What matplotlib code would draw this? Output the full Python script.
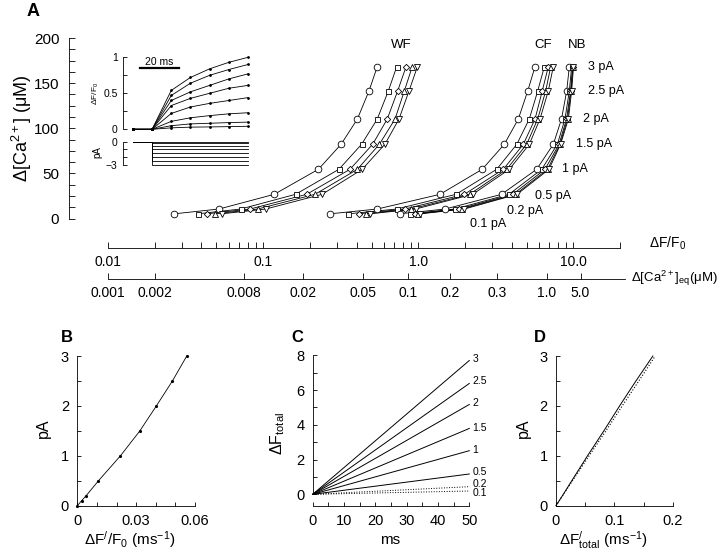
import matplotlib
matplotlib.use("Agg")
import matplotlib.pyplot as plt
from matplotlib.ticker import MultipleLocator, AutoMinorLocator, FixedLocator, NullFormatter

plt.rcParams['font.family'] = ['Liberation Sans', 'DejaVu Sans']
plt.rcParams['mathtext.fontset'] = 'custom'
plt.rcParams['mathtext.rm'] = 'Liberation Sans'
plt.rcParams['mathtext.it'] = 'Liberation Sans:italic'
plt.rcParams['mathtext.default'] = 'regular'
plt.rcParams['axes.linewidth'] = 0.6
plt.rcParams['xtick.major.width'] = 0.6
plt.rcParams['ytick.major.width'] = 0.6
plt.rcParams['xtick.minor.width'] = 0.6
plt.rcParams['ytick.minor.width'] = 0.6

# ---- panel A: dF/F0 vs d[Ca2+] for 8 current steps
pa_levels = [0.1, 0.2, 0.5, 1, 1.5, 2, 2.5, 3]
ca_um = [5.2, 10.5, 26.8, 54.5, 82.2, 110.2, 141.3, 168.2]
pa_text = ['0.1 pA', '0.2 pA', '0.5 pA', '1 pA', '1.5 pA', '2 pA', '2.5 pA', '3 pA']

wf_circle = [0.0268, 0.052, 0.118, 0.227, 0.318, 0.405, 0.481, 0.544]
wf_square = [0.0379, 0.0717, 0.162, 0.308, 0.431, 0.544, 0.641, 0.726]
wf_diamond = [0.0433, 0.0824, 0.191, 0.363, 0.508, 0.631, 0.736, 0.834]
wf_up = [0.049, 0.0922, 0.216, 0.405, 0.561, 0.708, 0.813, 0.914]
wf_down = [0.0541, 0.104, 0.240, 0.435, 0.609, 0.751, 0.871, 0.987]

cf_circle = [0.270, 0.544, 1.38, 2.58, 3.58, 4.41, 5.07, 5.65]
cf_square = [0.354, 0.726, 1.75, 3.20, 4.31, 5.19, 5.88, 6.49]
cf_diamond = [0.412, 0.820, 1.98, 3.53, 4.75, 5.65, 6.29, 6.88]
cf_up = [0.457, 0.898, 2.14, 3.71, 4.99, 5.88, 6.62, 7.13]
cf_down = [0.486, 0.960, 2.24, 3.86, 5.19, 6.08, 6.88, 7.41]

nb_circle = [0.759, 1.49, 3.44, 5.79, 7.41, 8.37, 9.04, 9.40]
nb_square = [0.885, 1.72, 3.84, 6.24, 7.87, 8.81, 9.40, 9.73]
nb_diamond = [0.953, 1.83, 4.06, 6.55, 8.07, 9.02, 9.57, 9.86]
nb_up = [0.991, 1.91, 4.23, 6.80, 8.18, 9.15, 9.64, 9.93]
nb_down = [1.03, 1.98, 4.33, 6.95, 8.25, 9.27, 9.73, 10.0]

group_names = ['WF', 'CF', 'NB']
groups = [[wf_circle, wf_square, wf_diamond, wf_up, wf_down],
          [cf_circle, cf_square, cf_diamond, cf_up, cf_down],
          [nb_circle, nb_square, nb_diamond, nb_up, nb_down]]
markers = ['o', 's', 'D', '^', 'v']
msizes = [4.8, 3.6, 3.2, 4.4, 4.4]

# lower scale: d[Ca2+]eq ticks and where they sit on the dF/F0 scale
ca_eq_ticks = ['0.001', '0.002', '0.008', '0.02', '0.05', '0.1', '0.2', '0.3', '1.0', '5.0']
ca_eq_at_dff = [0.01, 0.02, 0.0749, 0.180, 0.443, 0.855, 1.60, 3.20, 6.71, 11.1]

# inset traces (dF/F0 and current)
t_ms = [0, 10, 20, 30, 40, 50, 60]
dff_traces = [
    [0, 0, 0.54, 0.72, 0.84, 0.93, 1.00],
    [0, 0, 0.47, 0.64, 0.75, 0.83, 0.90],
    [0, 0, 0.40, 0.52, 0.61, 0.70, 0.77],
    [0, 0, 0.33, 0.43, 0.50, 0.57, 0.61],
    [0, 0, 0.22, 0.31, 0.36, 0.40, 0.44],
    [0, 0, 0.11, 0.16, 0.19, 0.215, 0.23],
    [0, 0, 0.05, 0.075, 0.084, 0.093, 0.10],
    [0, 0, 0.02, 0.03, 0.033, 0.037, 0.042],
]
step_t = [0, 10, 10, 60]

# ---- panel B
b_pa = [0, 0.1, 0.2, 0.5, 1, 1.5, 2, 2.5, 3]
b_rate = [0, 0.0022, 0.0045, 0.0108, 0.022, 0.0319, 0.0403, 0.0485, 0.0558]

# ---- panel C
c_t = [0, 50]
c_names = ['3', '2.5', '2', '1.5', '1', '0.5', '0.2', '0.1']
c_end = [7.7, 6.38, 5.17, 3.79, 2.51, 1.17, 0.44, 0.19]

# ---- panel D
d_pa = [0, 0.1, 0.2, 0.5, 1, 1.5, 2, 2.5, 3]
d_solid = [0, 0.0055, 0.011, 0.027, 0.054, 0.082, 0.109, 0.137, 0.166]
d_dotted = [0, 0.0056, 0.0113, 0.0283, 0.0567, 0.0855, 0.1135, 0.142, 0.170]

W, H = 720.0, 553.0
fig = plt.figure(figsize=(W / 100, H / 100), dpi=100)


def box(l, t, r, b):
    return [l / W, 1 - b / H, (r - l) / W, (b - t) / H]


def txt(x, y, s, **kw):
    kw.setdefault('ha', 'center')
    kw.setdefault('va', 'center')
    fig.text(x / W, 1 - y / H, s, **kw)


def px2dff(p):
    return 10 ** ((p - 107.9) / 155.2 - 2)


xl = (px2dff(69), px2dff(640))

# main A axes
ax = fig.add_axes(box(69, 38, 640, 218.5))
ax.set_xscale('log')
ax.set_xlim(xl)
ax.set_ylim(0, 200)
for s in ['top', 'right', 'bottom']:
    ax.spines[s].set_visible(False)
ax.xaxis.set_visible(False)
ax.patch.set_alpha(0)
ax.yaxis.set_major_locator(MultipleLocator(50))
ax.yaxis.set_minor_locator(AutoMinorLocator(4))
ax.tick_params(axis='y', which='both', direction='in', length=4, labelsize=11, pad=7)

for grp in groups:
    for xs, m, ms in zip(grp, markers, msizes):
        ax.plot(xs, ca_um, '-', color='k', lw=0.6, zorder=2, clip_on=False)
    for xs, m, ms in zip(grp, markers, msizes):
        ax.plot(xs, ca_um, ls='none', marker=m, ms=ms, mfc='white', mec='k',
                mew=0.6, zorder=3, clip_on=False)

txt(401.7, 45, 'WF', fontsize=9.5)
txt(543, 45, 'CF', fontsize=9.5)
txt(577, 45, 'NB', fontsize=9.5)
pa_lab_x = [470, 507, 535, 562, 576, 583, 588, 588]
pa_lab_y = [223.5, 211, 196, 169, 144, 119, 91, 67]
for s, x, y in zip(pa_text, pa_lab_x, pa_lab_y):
    txt(x, y, s, fontsize=9, ha='left')

# dF/F0 log axis
ax1 = fig.add_axes(box(69, 247, 640, 248))
ax1.set_xscale('log')
ax1.set_xlim(xl)
ax1.patch.set_alpha(0)
for s in ['top', 'right', 'left']:
    ax1.spines[s].set_visible(False)
ax1.yaxis.set_visible(False)
ax1.spines['bottom'].set_bounds(0.01, 20)
ax1.set_xticks([0.01, 0.1, 1, 10], ['0.01', '0.1', '1.0', '10.0'])
ax1.xaxis.set_minor_locator(FixedLocator([k * 10.0 ** e for e in (-2, -1, 0) for k in range(2, 10)] + [20]))
ax1.xaxis.set_minor_formatter(NullFormatter())
ax1.tick_params(axis='x', which='both', direction='in', length=4, labelsize=10, pad=5)

# d[Ca2+]eq axis
ax2 = fig.add_axes(box(69, 278, 640, 279))
ax2.set_xscale('log')
ax2.set_xlim(xl)
ax2.patch.set_alpha(0)
for s in ['top', 'right', 'left']:
    ax2.spines[s].set_visible(False)
ax2.yaxis.set_visible(False)
ax2.spines['bottom'].set_bounds(0.01, px2dff(625))
ax2.set_xticks(ca_eq_at_dff, ca_eq_ticks)
ax2.xaxis.set_minor_locator(FixedLocator([]))
ax2.tick_params(axis='x', which='both', direction='in', length=4, labelsize=10, pad=5)

txt(668, 243, r'$\Delta$F/F$_0$', fontsize=10)
txt(631, 278, r'$\Delta$[Ca$^{2+}$]$_{eq}$(μM)', fontsize=9.5, ha='left')
txt(33, 11, 'A', fontsize=13, weight='bold')
txt(22, 128, r'$\Delta$[Ca$^{2+}$] (μM)', fontsize=13, rotation=90)

# inset: fluorescence
ins = fig.add_axes(box(123.3, 57.3, 248, 129.3))
ins.set_xlim(-5, 60)
ins.set_ylim(0, 1)
ins.patch.set_alpha(0)
for s in ['top', 'right', 'bottom']:
    ins.spines[s].set_visible(False)
ins.xaxis.set_visible(False)
ins.set_yticks([0, 0.5, 1], ['0', '0.5', '1'])
ins.yaxis.set_minor_locator(MultipleLocator(0.25))
ins.tick_params(axis='y', which='both', direction='in', length=3, labelsize=7.5, pad=4)
for tr in dff_traces:
    ins.plot(t_ms, tr, '-', color='k', lw=0.6, marker='.', ms=2, clip_on=False)
ins.plot([3.8, 23.8], [0.855, 0.855], '-', color='k', lw=1.6)
ins.text(13.8, 0.93, '20 ms', fontsize=7.5, ha='center', va='center')
txt(96, 93, r'$\Delta$F/F$_0$', fontsize=6, rotation=90)

# inset: current
ins2 = fig.add_axes(box(123.3, 141.7, 248, 165))
ins2.set_xlim(-5, 60)
ins2.set_ylim(-3, 0)
ins2.patch.set_alpha(0)
for s in ['top', 'right', 'bottom']:
    ins2.spines[s].set_visible(False)
ins2.xaxis.set_visible(False)
ins2.set_yticks([-3, -2, -1, 0], ['\u22123', '', '', '0'])
ins2.tick_params(axis='y', direction='in', length=3, labelsize=7.5, pad=4)
for p in pa_levels:
    ins2.plot(step_t, [0, 0, -p, -p], '-', color='k', lw=0.6, clip_on=False)
txt(97, 152, 'pA', fontsize=7, rotation=90)


def small_axes(rect):
    a = fig.add_axes(rect)
    a.spines['top'].set_visible(False)
    a.spines['right'].set_visible(False)
    a.tick_params(which='both', direction='in', length=3, labelsize=10.5, pad=6)
    return a


# B
axb = small_axes(box(77.3, 356, 195, 505.7))
axb.plot(b_rate, b_pa, '-', color='k', lw=0.6, marker='.', ms=2.5, clip_on=False)
axb.set_xlim(0, 0.06)
axb.set_ylim(0, 3)
axb.set_xticks([0, 0.03, 0.06], ['0', '0.03', '0.06'])
axb.xaxis.set_minor_locator(MultipleLocator(0.01))
axb.set_yticks([0, 1, 2, 3])
axb.yaxis.set_minor_locator(MultipleLocator(0.5))

# C
axc = small_axes(box(312.7, 355.3, 469.3, 505.7))
for name, e, in zip(c_names, c_end):
    ls = ':' if e < 0.5 else '-'
    axc.plot(c_t, [0, e], ls=ls, color='k', lw=0.7, clip_on=False)
c_lab_dy = [0.1, 0.15, 0.1, 0.05, 0.05, 0.12, 0.15, -0.1]
for name, e, dy in zip(c_names, c_end, c_lab_dy):
    axc.text(51, e + dy, name, fontsize=7.5, ha='left', va='center')
axc.set_xlim(0, 50)
axc.set_ylim(-0.655, 8)
axc.spines['left'].set_bounds(0, 8)
axc.set_xticks(range(0, 51, 10))
axc.xaxis.set_minor_locator(MultipleLocator(5))
axc.set_yticks([0, 2, 4, 6, 8])
axc.yaxis.set_minor_locator(FixedLocator([1, 3, 5, 7]))

# D
axd = small_axes(box(556, 356, 672.7, 505.7))
axd.plot(d_solid, d_pa, '-', color='k', lw=0.7, clip_on=False)
axd.plot(d_dotted, d_pa, ':', color='k', lw=0.8, clip_on=False)
axd.set_xlim(0, 0.2)
axd.set_ylim(0, 3)
axd.set_xticks([0, 0.1, 0.2], ['0', '0.1', '0.2'])
axd.xaxis.set_minor_locator(MultipleLocator(0.05))
axd.set_yticks([0, 1, 2, 3])
axd.yaxis.set_minor_locator(MultipleLocator(0.5))

txt(67, 338, 'B', fontsize=12, weight='bold')
txt(297, 338, 'C', fontsize=12, weight='bold')
txt(540, 338, 'D', fontsize=12, weight='bold')
txt(43, 428, 'pA', fontsize=11.5, rotation=90)
txt(278, 433, r'$\Delta$F$_{total}$', fontsize=11.5, rotation=90)
txt(523, 428, 'pA', fontsize=11.5, rotation=90)
txt(130, 540, r'$\Delta$F$^{/}$/F$_0$ (ms$^{-1}$)', fontsize=11)
txt(390, 540, 'ms', fontsize=11)
txt(603, 540, r'$\Delta$F$^{/}_{total}$ (ms$^{-1}$)', fontsize=11)

fig.savefig('out.png', dpi=100)
